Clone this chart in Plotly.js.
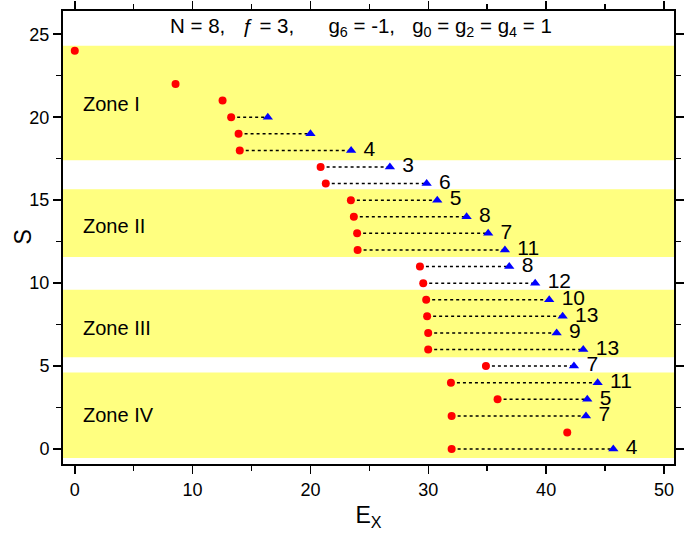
<!DOCTYPE html>
<html>
<head>
<meta charset="utf-8">
<script src="https://cdn.plot.ly/plotly-3.0.1.min.js"></script>
<style>html,body{margin:0;padding:0;background:#fff;}#chart{width:685px;height:538px;}</style>
</head>
<body>
<div id="chart"></div>
<script>
// Red circles (all states)
const redS = [24, 22, 21, 20, 19, 18, 17, 16, 15, 14, 13, 12, 11, 10, 9, 8, 7, 6, 5, 4, 3, 2, 1, 0];
const redE = [0, 8.55, 12.54, 13.27, 13.9, 14.0, 20.86, 21.3, 23.43, 23.68, 23.96, 24.0, 29.29, 29.57, 29.82, 29.9, 29.99, 29.99, 34.89, 31.92, 35.88, 31.98, 41.79, 31.98];
// Blue triangles (paired states)
const blueS = [20, 19, 18, 17, 16, 15, 14, 13, 12, 11, 10, 9, 8, 7, 6, 5, 4, 3, 2, 0];
const blueE = [16.38, 20.0, 23.45, 26.74, 29.86, 30.76, 33.25, 35.08, 36.5, 36.87, 39.07, 40.26, 41.4, 40.89, 43.15, 42.36, 44.37, 43.49, 43.38, 45.7];
// Red partner energy for each blue triangle (dotted connectors)
const pairRedE = [13.27, 13.9, 14.0, 20.86, 21.3, 23.43, 23.68, 23.96, 24.0, 29.29, 29.57, 29.82, 29.9, 29.99, 29.99, 34.89, 31.92, 35.88, 31.98, 31.98];
const blueLabels = ["", "", "4", "3", "6", "5", "8", "7", "11", "8", "12", "10", "13", "9", "13", "7", "11", "5", "7", "4"];
// Zones
const zoneNames = ["Zone I", "Zone II", "Zone III", "Zone IV"];
const zoneLow = [17.4, 11.57, 5.54, -0.54];
const zoneHigh = [24.3, 15.66, 9.6, 4.61];
const zoneLabelS = [20.8, 13.45, 7.3, 2.05];
const zoneLabelE = [0.5, 0.5, 0.5, 0.5];

const FONT = "Liberation Sans, Arial, sans-serif";

const lx = [], ly = [];
for (let i = 0; i < blueS.length; i++) {
  lx.push(pairRedE[i], blueE[i], null);
  ly.push(blueS[i], blueS[i], null);
}

const traces = [
  {x: lx, y: ly, mode: 'lines', type: 'scatter', line: {color: '#000', width: 1.5, dash: 'dot'}, hoverinfo: 'skip', showlegend: false},
  {x: redE, y: redS, mode: 'markers', type: 'scatter', marker: {symbol: 'circle', color: '#ff0000', size: 8}, showlegend: false},
  {x: blueE, y: blueS, mode: 'markers+text', type: 'scatter', text: blueLabels, texttemplate: ' %{text}', textposition: 'middle right',
   textfont: {family: FONT, size: 21, color: '#000'}, cliponaxis: false,
   marker: {symbol: 'triangle-up', color: '#0000ff', size: 9}, showlegend: false}
];

const shapes = zoneLow.map((lo, i) => ({
  type: 'rect', xref: 'paper', yref: 'y', x0: 0, x1: 1, y0: lo, y1: zoneHigh[i],
  fillcolor: '#ffff80', line: {width: 0}, layer: 'below'
}));

const annotations = zoneNames.map((n, i) => ({
  x: zoneLabelE[i], y: zoneLabelS[i], xref: 'x', yref: 'y', text: n, showarrow: false,
  xanchor: 'left', yanchor: 'middle', font: {family: FONT, size: 20, color: '#000'}
}));
annotations.push({
  x: 0.487, y: 25.45, xref: 'paper', yref: 'y', showarrow: false, xanchor: 'center', yanchor: 'middle',
  text: 'N = 8,   ƒ = 3,      g<sub>6</sub> = -1,   g<sub>0</sub> = g<sub>2</sub> = g<sub>4</sub> = 1',
  font: {family: FONT, size: 20.5, color: '#000'}
});
// y-axis title "S"
annotations.push({
  x: -41, y: 0.5, xref: 'paper', yref: 'paper', xshift: 0, showarrow: false, textangle: -90,
  text: 'S', font: {family: FONT, size: 23, color: '#000'}, xanchor: 'center', yanchor: 'middle'
});

const layout = {
  width: 685, height: 538,
  margin: {l: 63, r: 11, t: 11, b: 74},
  paper_bgcolor: '#fff', plot_bgcolor: '#fff',
  font: {family: FONT, size: 18, color: '#000'},
  xaxis: {
    range: [-1, 50.85], dtick: 10, tick0: 0, ticks: 'outside', ticklen: 8, tickwidth: 1.5, tickcolor: '#000',
    showline: true, linewidth: 2, linecolor: '#000', mirror: 'ticks', showgrid: false, zeroline: false,
    minor: {dtick: 5, ticks: 'outside', ticklen: 5, tickwidth: 1.5, tickcolor: '#000', showgrid: false},
    tickfont: {family: FONT, size: 18},
    title: {text: 'E<sub>X</sub>', font: {family: FONT, size: 23}, standoff: 8}
  },
  yaxis: {
    range: [-0.9, 26.4], dtick: 5, tick0: 0, ticks: 'outside', ticklen: 8, tickwidth: 1.5, tickcolor: '#000',
    showline: true, linewidth: 2, linecolor: '#000', mirror: 'ticks', showgrid: false, zeroline: false,
    minor: {dtick: 2.5, ticks: 'outside', ticklen: 5, tickwidth: 1.5, tickcolor: '#000', showgrid: false},
    tickfont: {family: FONT, size: 18}
  },
  shapes: shapes,
  annotations: annotations
};
// place "S" title at about x = 22 px
layout.annotations[layout.annotations.length - 1].x = (22 - 63) / (685 - 63 - 11);

Plotly.newPlot('chart', traces, layout, {displayModeBar: false, staticPlot: true});
</script>
</body>
</html>
